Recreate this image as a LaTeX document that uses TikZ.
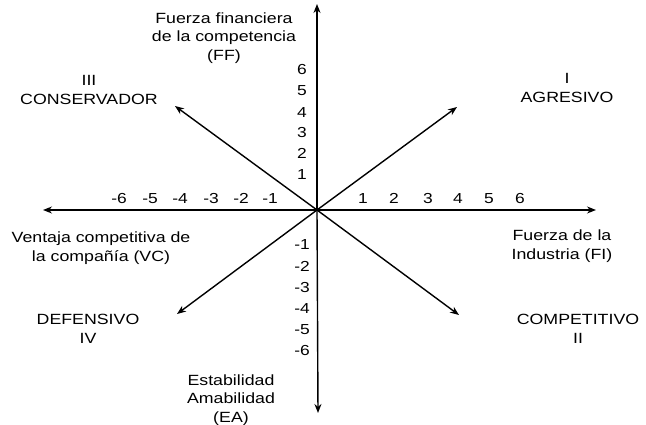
\documentclass[tikz,border=0pt]{standalone}
\usepackage{fontspec}
\setmainfont{Liberation Sans}[FakeStretch=1.2]
\usetikzlibrary{arrows.meta}
\begin{document}
\begin{tikzpicture}[x=1pt,y=-1pt,
  axis/.style={line width=1.4pt,-{Stealth[length=9pt,width=7pt]}},
  lbl/.style={font=\fontsize{14.8}{18.5}\selectfont,align=center,inner sep=0pt},
  num/.style={font=\fontsize{14.5}{16}\selectfont,inner sep=0pt,anchor=base}]
\useasboundingbox[fill=white] (0,0) rectangle (646,425);
\coordinate (O) at (317,210);
\coordinate (T) at (317,4);
\coordinate (B) at (318,413);
\coordinate (L) at (43,210);
\coordinate (R) at (596,210);
\coordinate (NE) at (457,107);
\coordinate (NW) at (175,106);
\coordinate (SW) at (177,314);
\coordinate (SE) at (459,315);
\draw[axis] (O) -- (T);
\draw[axis] (O) -- (B);
\draw[axis] (O) -- (L);
\draw[axis] (O) -- (R);
\draw[axis] (O) -- (NE);
\draw[axis] (O) -- (NW);
\draw[axis] (O) -- (SW);
\draw[axis] (O) -- (SE);
% x numbers
\foreach \v/\x in {1/363,2/394,3/428,4/458,5/489,6/520}
  \node[num] (xp\v) at (\x,204) {\v};
\foreach \v/\x in {6/119,5/150,4/180,3/211,2/241,1/270}
  \node[num] (xn\v) at (\x,204) {-\v};
% y numbers
\foreach \v/\y in {6/75,5/96,4/118,3/138,2/159,1/180}
  \node[num] (yp\v) at (302,\y) {\v};
\foreach \v/\y in {1/250,2/271,3/292,4/313,5/334,6/355}
  \node[num] (yn\v) at (302,\y) {-\v};
\node[lbl] (ff) at (224,38) {Fuerza financiera\\de la competencia\\(FF)};
\node[lbl] (cons) at (89,90) {III\\CONSERVADOR};
\node[lbl] (agr) at (567,88) {I\\AGRESIVO};
\node[lbl] (vc) at (101,248) {Ventaja competitiva de\\la compañía (VC)};
\node[lbl] (fi) at (562,246) {Fuerza de la\\Industria (FI)};
\node[lbl] (def) at (88,329) {DEFENSIVO\\IV};
\node[lbl] (comp) at (578,329) {COMPETITIVO\\II};
\node[lbl] (ea) at (231,400) {Estabilidad\\Amabilidad\\(EA)};
\end{tikzpicture}
\end{document}
